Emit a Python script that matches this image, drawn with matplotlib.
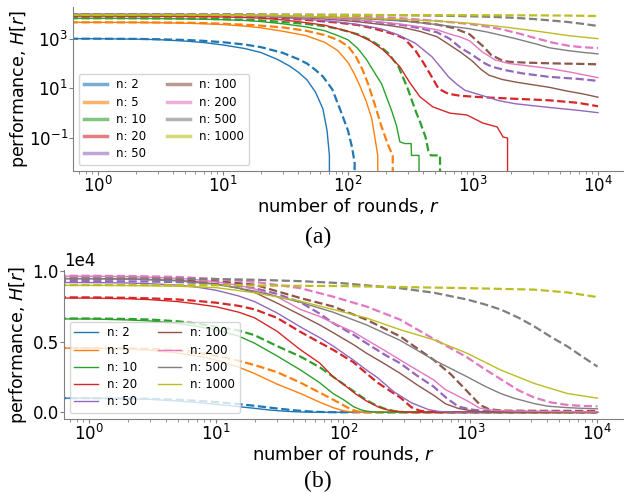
import matplotlib
matplotlib.use("Agg")
import matplotlib.pyplot as plt
from matplotlib.lines import Line2D
from matplotlib import ticker

ns = [2, 5, 10, 20, 50, 100, 200, 500, 1000]
colors = plt.get_cmap("tab10").colors

# ---- data (r = rounds, H = performance) ----
r_s2 = [0, 1, 2, 3, 5, 7, 10, 15, 20, 27, 34, 40, 47, 55, 63, 68, 71, 72, 10000]
h_s2 = [1000, 1000, 960, 920, 800, 700, 560, 400, 280, 150, 80, 45, 22, 7, 1.5, 0.2, 0.02, 0, 0]
r_d2 = [0, 1, 2, 3, 5, 7, 10, 15, 20, 30, 40, 47, 55, 63, 75, 87, 100, 108, 113, 115, 10000]
h_d2 = [1000, 1000, 980, 950, 890, 820, 720, 580, 460, 270, 150, 100, 55, 30, 9, 1.3, 0.2, 0.04, 0.01, 0, 0]

r_s5 = [0, 1, 2, 3, 5, 7, 10, 15, 20, 30, 46, 65, 83, 100, 112, 125, 140, 155, 168, 173, 175, 10000]
h_s5 = [4550, 4550, 4500, 4400, 4200, 4000, 3700, 3200, 2750, 2000, 1330, 720, 330, 110, 40, 12, 3, 0.6, 0.05, 0.02, 0, 0]
r_d5 = [0, 1, 2, 3, 5, 7, 10, 15, 20, 30, 46, 65, 83, 100, 115, 130, 145, 165, 185, 210, 228, 232, 10000]
h_d5 = [4550, 4550, 4530, 4500, 4400, 4250, 4000, 3650, 3350, 2850, 2100, 1400, 900, 500, 200, 60, 15, 2, 0.3, 0.05, 0.02, 0, 0]

r_s10 = [0, 1, 2, 3, 5, 7, 10, 15, 20, 30, 46, 65, 83, 100, 120, 140, 160, 186, 205, 223, 245, 260, 285, 320, 322, 370, 372, 10000]
h_s10 = [6620, 6620, 6550, 6480, 6300, 6100, 5850, 5400, 4900, 4000, 3000, 2100, 1330, 900, 400, 150, 50, 15, 4, 1.3, 0.3, 0.07, 0.06, 0.06, 0.02, 0.02, 0, 0]
r_d10 = [0, 1, 2, 3, 5, 7, 10, 15, 20, 30, 46, 65, 83, 120, 152, 180, 210, 253, 300, 346, 380, 417, 440, 460, 545, 548, 10000]
h_d10 = [6650, 6650, 6620, 6580, 6450, 6300, 6060, 5800, 5470, 4700, 3950, 3200, 2520, 1500, 860, 500, 260, 76, 10, 1.3, 0.4, 0.11, 0.03, 0.02, 0.02, 0, 0]

r_s20 = [0, 1, 2, 3, 5, 7, 10, 15, 20, 30, 46, 65, 83, 103, 125, 152, 190, 225, 260, 310, 376, 477, 656, 893, 1200, 1560, 1740, 1890, 1900, 10000]
h_s20 = [8100, 8100, 8050, 7990, 7850, 7680, 7480, 7100, 6700, 5750, 4430, 3500, 2520, 1900, 1300, 800, 360, 160, 74, 18, 4.6, 1.8, 1.0, 0.85, 0.4, 0.28, 0.11, 0.1, 0, 0]
r_d20 = [0, 1, 2, 3, 5, 7, 10, 15, 20, 30, 46, 65, 83, 120, 152, 186, 230, 280, 344, 400, 468, 530, 637, 800, 1180, 2180, 4090, 7000, 10000]
h_d20 = [8150, 8150, 8120, 8080, 8000, 7900, 7770, 7550, 7300, 6700, 5700, 4950, 4430, 3550, 2760, 2100, 1550, 1050, 350, 110, 29, 9.7, 6, 5, 4.4, 3.8, 3.3, 2.6, 1.9]

r_s50 = [0, 1, 2, 3, 5, 7, 10, 15, 20, 30, 46, 65, 83, 120, 152, 186, 250, 344, 468, 560, 637, 750, 865, 1180, 1610, 2180, 4090, 7000, 10000]
h_s50 = [9200, 9200, 9170, 9120, 9020, 8880, 8650, 8250, 7850, 7050, 6050, 5300, 4700, 3700, 3000, 2450, 1450, 670, 190, 65, 29, 14, 8.3, 5.2, 3.2, 2.4, 1.7, 1.3, 1.05]
r_d50 = [0, 1, 2, 3, 5, 7, 10, 15, 20, 30, 46, 65, 83, 120, 152, 210, 280, 380, 515, 650, 800, 940, 1050, 1250, 1420, 1820, 2500, 4070, 7000, 10000]
h_d50 = [9300, 9300, 9290, 9270, 9230, 9180, 9100, 8950, 8800, 8400, 7800, 7000, 6330, 5500, 4900, 4100, 3480, 2600, 1810, 1000, 420, 260, 180, 100, 74, 54, 40, 29, 24, 20]

r_s100 = [0, 1, 2, 3, 5, 7, 10, 15, 20, 30, 46, 65, 83, 120, 152, 210, 280, 380, 515, 637, 800, 980, 1150, 1340, 1700, 2180, 3000, 4090, 5500, 7560, 10000]
h_s100 = [9480, 9480, 9460, 9420, 9350, 9250, 9100, 8800, 8500, 7750, 6900, 6200, 5650, 4800, 4190, 3450, 2760, 1950, 1200, 600, 280, 130, 60, 34, 23, 18, 14, 11, 8, 6, 4.4]
r_d100 = [0, 1, 2, 5, 10, 20, 46, 83, 152, 280, 515, 700, 940, 1200, 1400, 1730, 1940, 2500, 4090, 7000, 10000]
h_d100 = [9480, 9480, 9470, 9420, 9300, 9050, 8100, 7500, 6570, 5380, 3710, 2700, 1500, 500, 220, 130, 118, 110, 102, 97, 93]

r_s200 = [0, 1, 2, 3, 5, 7, 10, 15, 20, 30, 46, 65, 83, 120, 152, 210, 280, 380, 515, 637, 800, 940, 1180, 1500, 1940, 2800, 4090, 6000, 10000]
h_s200 = [9650, 9650, 9620, 9580, 9500, 9400, 9250, 9000, 8750, 8200, 7290, 6800, 6330, 5700, 5140, 4400, 3710, 3000, 2290, 1600, 1150, 820, 300, 140, 100, 80, 63, 45, 27]
r_d200 = [0, 1, 2, 5, 10, 20, 46, 83, 152, 280, 515, 940, 1300, 1730, 2400, 3170, 4300, 5800, 7600, 10000]
h_d200 = [9680, 9680, 9670, 9600, 9450, 9250, 8800, 8200, 7500, 6570, 5200, 3900, 3050, 2350, 1550, 1050, 700, 520, 450, 420]

r_s500 = [0, 1, 2, 5, 10, 20, 46, 83, 152, 280, 515, 940, 1300, 1730, 2200, 3170, 4080, 5800, 7600, 10000]
h_s500 = [9480, 9480, 9450, 9320, 9070, 8600, 7800, 7100, 6200, 5100, 3710, 2520, 1850, 1330, 1000, 620, 430, 330, 280, 245]
r_d500 = [0, 1, 2, 5, 10, 20, 46, 100, 152, 280, 515, 940, 1300, 1730, 2400, 3170, 4300, 5800, 7600, 10000]
h_d500 = [9500, 9500, 9500, 9480, 9450, 9400, 9300, 9150, 9000, 8800, 8480, 8000, 7650, 7290, 6700, 6100, 5350, 4670, 3950, 3240]

r_s1000 = [0, 1, 2, 5, 10, 20, 46, 83, 152, 280, 515, 940, 1730, 3170, 5800, 10000]
h_s1000 = [9000, 9000, 8990, 8940, 8840, 8480, 7880, 7290, 6690, 5860, 5140, 4190, 3000, 2050, 1330, 1000]
r_d1000 = [0, 1, 10, 100, 1000, 3170, 5800, 10000]
h_d1000 = [9020, 9020, 9010, 8950, 8800, 8700, 8500, 8170]

solid_r = [r_s2, r_s5, r_s10, r_s20, r_s50, r_s100, r_s200, r_s500, r_s1000]
solid_h = [h_s2, h_s5, h_s10, h_s20, h_s50, h_s100, h_s200, h_s500, h_s1000]
dash_r = [r_d2, r_d5, r_d10, r_d20, r_d50, r_d100, r_d200, r_d500, r_d1000]
dash_h = [h_d2, h_d5, h_d10, h_d20, h_d50, h_d100, h_d200, h_d500, h_d1000]

FS = 12
fig = plt.figure(figsize=(6.26, 4.93), dpi=100)
ax1 = fig.add_axes([0.1166, 0.653, 0.8786, 0.333])
ax2 = fig.add_axes([0.102, 0.150, 0.893, 0.302])

for ax in (ax1, ax2):
    for i, n in enumerate(ns):
        ax.plot(solid_r[i], solid_h[i], color=colors[i], lw=1.0, label=f"n: {n}")
        ax.plot(dash_r[i], dash_h[i], color=colors[i], lw=1.6, ls="--")
    ax.set_xscale("log")
    ax.set_xlim(10 ** -0.2, 10 ** 4.2)
    ax.xaxis.set_minor_locator(ticker.LogLocator(subs=range(2, 10)))
    ax.xaxis.set_minor_formatter(ticker.NullFormatter())
    for s in ("top", "right"):
        ax.spines[s].set_visible(False)
    for s in ("left", "bottom"):
        ax.spines[s].set_color("#808080")
    ax.tick_params(labelsize=FS, colors="black", pad=0.5, length=3)
    ax.tick_params(which="both", color="#808080")
    ax.tick_params(which="minor", length=2)
    ax.set_xlabel("number of rounds, $r$", fontsize=13, labelpad=0)
    ax.set_ylabel("performance, $H[r]$", fontsize=12.6)

ax1.set_yscale("log")
ax1.set_ylim(10 ** -2.33, 10 ** 4.28)
ax1.set_yticks([1e-1, 1e1, 1e3])
ax1.yaxis.set_minor_locator(ticker.NullLocator())
ax1.yaxis.set_label_coords(-0.078, 0.5)

ax2.set_ylim(-480, 10080)
ax2.set_yticks([0, 5000, 10000])
ax2.ticklabel_format(axis="y", style="sci", scilimits=(0, 0))
ax2.yaxis.get_offset_text().set_fontsize(FS)
ax2.yaxis.set_label_coords(-0.062, 0.5)

leg_kw = dict(ncol=2, loc="lower left", fontsize=8.5, handlelength=2.0,
              handletextpad=0.75, columnspacing=1.75, labelspacing=0.36, borderpad=0.4)
h1 = [Line2D([], [], color=colors[i], lw=2.5, alpha=0.6) for i in range(9)]
ax1.legend(h1, [f"n: {n}" for n in ns], **leg_kw)
ax2.legend(**leg_kw)

fig.text(0.508, 0.519, "(a)", family="Liberation Serif", fontsize=17, ha="center", va="center")
fig.text(0.508, 0.024, "(b)", family="Liberation Serif", fontsize=17, ha="center", va="center")

fig.savefig("out.png", dpi=100)
